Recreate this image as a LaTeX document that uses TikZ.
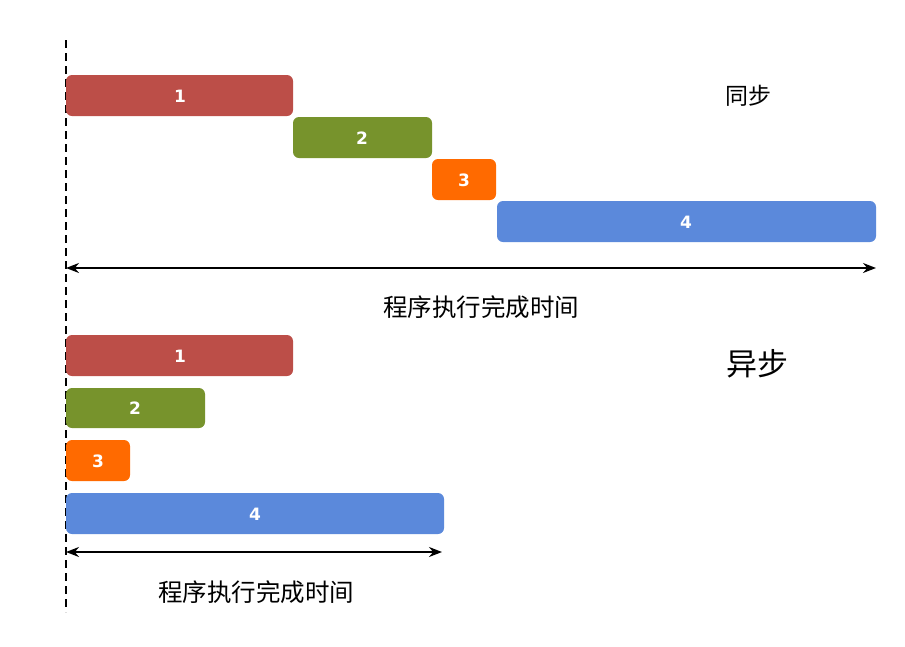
\documentclass[tikz,border=0pt]{standalone}
\usepackage{fontspec}
\setmainfont{DejaVu Sans}
\newfontfamily\cjk{Noto Sans CJK SC}
\usetikzlibrary{arrows.meta}
\definecolor{cred}{HTML}{BC4E48}
\definecolor{cgreen}{HTML}{77932C}
\definecolor{corange}{HTML}{FF6A00}
\definecolor{cblue}{HTML}{5B89DB}
\tikzset{
  bar/.style={rounded corners=6pt, draw=none},
  num/.style={text=white, font=\fontsize{17}{20}\selectfont\bfseries},
  span/.style={line width=1.8pt, {Stealth[length=13pt,width=10pt]}-{Stealth[length=13pt,width=10pt]}},
  lbl/.style={font=\cjk\fontsize{24.5}{28}\selectfont}
}
\begin{document}
\begin{tikzpicture}[x=1pt,y=-1pt]
\useasboundingbox (0,0) rectangle (905,646);
\coordinate (dtop) at (66,40);
\coordinate (dbot) at (66,612);
\draw[line width=2.8pt, dash pattern=on 8pt off 5pt] (dtop) -- (dbot);
% synchronous
\fill[bar, cred] (66,75) rectangle (293,116);
\node[num] (s1) at (180,96) {1};
\fill[bar, cgreen] (293,117) rectangle (432,158);
\node[num] (s2) at (362,138) {2};
\fill[bar, corange] (432,159) rectangle (496,200);
\node[num] (s3) at (464,180) {3};
\fill[bar, cblue] (497,201) rectangle (876,242);
\node[num] (s4) at (686,222) {4};
\coordinate (sa) at (66,268);
\coordinate (sb) at (876,268);
\draw[span] (sa) -- (sb);
\node[lbl] (sl) at (481,307) {程序执行完成时间};
\node[font=\cjk\fontsize{23}{26}\selectfont] (st) at (748,96) {同步};
% asynchronous
\fill[bar, cred] (66,335) rectangle (293,376);
\node[num] (a1) at (180,356) {1};
\fill[bar, cgreen] (66,388) rectangle (205,428);
\node[num] (a2) at (135,408) {2};
\fill[bar, corange] (66,440) rectangle (130,481);
\node[num] (a3) at (98,461) {3};
\fill[bar, cblue] (66,493) rectangle (444,534);
\node[num] (a4) at (255,514) {4};
\coordinate (aa) at (66,552);
\coordinate (ab) at (442,552);
\draw[span] (aa) -- (ab);
\node[lbl] (al) at (256,592) {程序执行完成时间};
\node[font=\cjk\fontsize{31}{35}\selectfont] (at) at (757,364) {异步};
\end{tikzpicture}
\end{document}
